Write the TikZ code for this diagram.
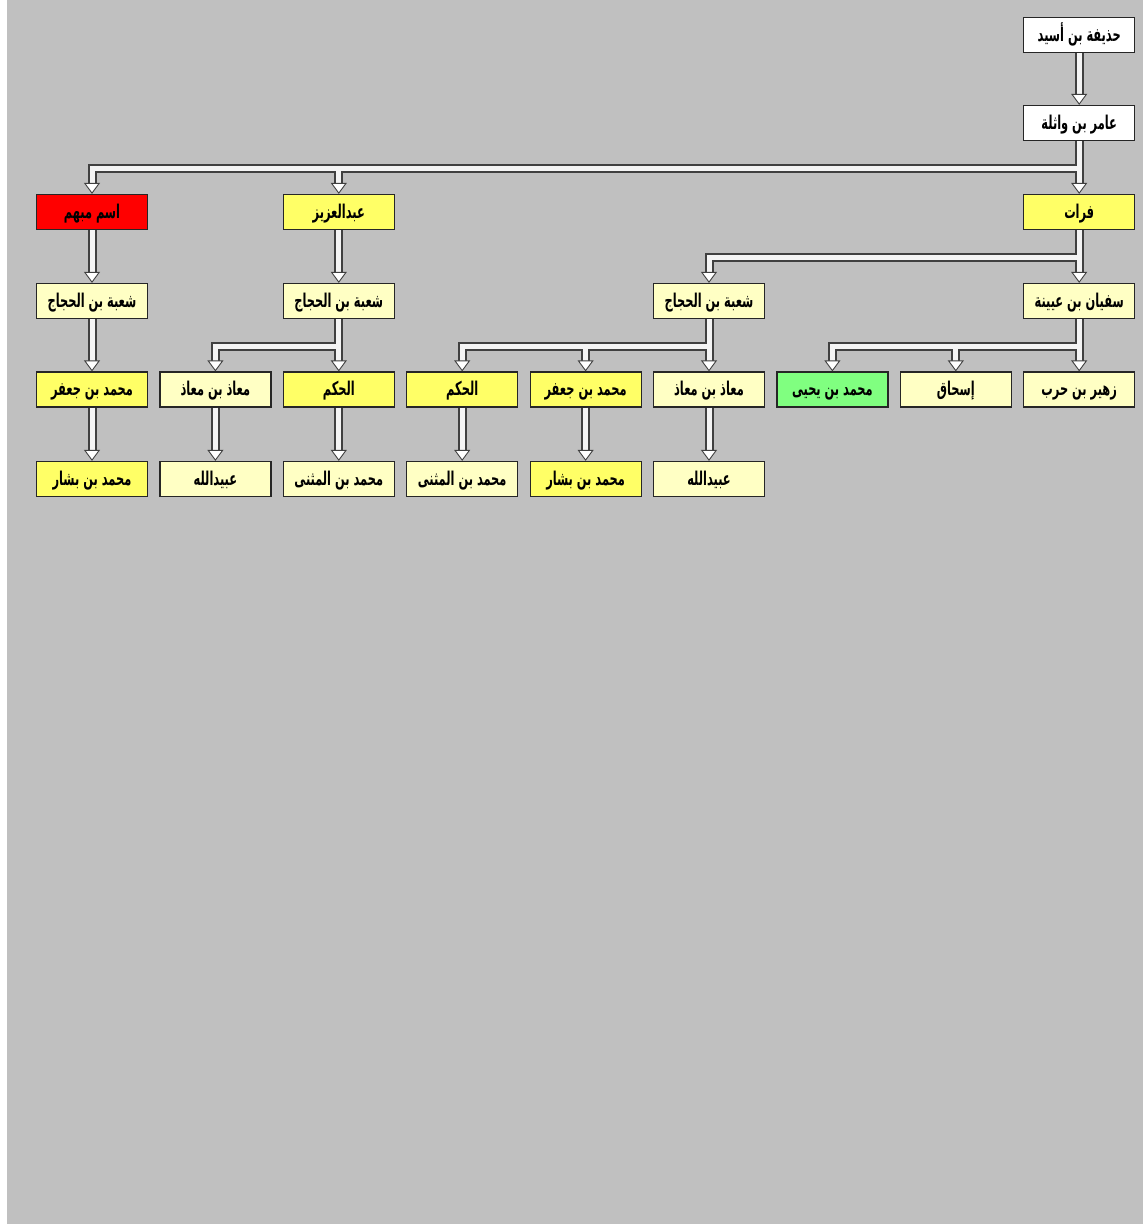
\documentclass[tikz,border=0pt]{standalone}
\usepackage{fontspec}
\newfontfamily\arabicfont[Script=Arabic, FakeStretch=0.6]{DejaVu Sans}
\TeXXeTstate=1
\usetikzlibrary{arrows.meta, positioning, calc}
\definecolor{bggray}{HTML}{C0C0C0}
\definecolor{boxred}{HTML}{FF0000}
\definecolor{boxyellow}{HTML}{FFFF66}
\definecolor{paleyellow}{HTML}{FFFFC4}
\definecolor{boxgreen}{HTML}{80FF80}
\definecolor{pipegray}{HTML}{404040}
\definecolor{pipelight}{HTML}{F4F4F4}

\begin{document}
\begin{tikzpicture}[
  x=1pt, y=1pt,
  namebox/.style={
    draw=black!85, line width=1.2pt, fill=#1,
    minimum width=111pt, minimum height=35pt, inner sep=2pt,
    text height=17pt, text depth=4pt,
    font=\arabicfont\bfseries\fontsize{19}{21}\selectfont, text=black
  },
  pipeout/.style={line width=9pt, draw=pipegray, shorten >=10pt},
  pipein/.style={line width=5pt, draw=pipelight,
    -{Triangle[length=11pt, width=16pt, fill=white, color=pipegray, line width=0.9pt]}},
]

% Background
\useasboundingbox (0,0) rectangle (1146,1224);
\fill[white] (0,0) rectangle (1146,1224);
\fill[bggray] (7,0) rectangle (1143,1224);

% =============================================
% Top of the chain
% =============================================
\node[namebox={white}] (hudhayfa) at (1079.2,1189) {\beginR حذيفة بن أسيد\endR};
\node[namebox={white}] (amir) at (1079.2,1101) {\beginR عامر بن واثلة\endR};

% =============================================
% Row 2
% =============================================
\node[namebox={boxyellow}] (furat) at (1079.2,1012) {\beginR فرات\endR};
\node[namebox={boxyellow}] (abdulaziz) at (338.8,1012) {\beginR عبدالعزيز\endR};
\node[namebox={boxred}] (mubham) at (92,1012) {\beginR اسم مبهم\endR};

% =============================================
% Row 3
% =============================================
\node[namebox={paleyellow}] (shubaA) at (92,923) {\beginR شعبة بن الحجاج\endR};
\node[namebox={paleyellow}] (shubaB) at (338.8,923) {\beginR شعبة بن الحجاج\endR};
\node[namebox={paleyellow}] (shubaC) at (709,923) {\beginR شعبة بن الحجاج\endR};
\node[namebox={paleyellow}] (sufyan) at (1079.2,923) {\beginR سفيان بن عيينة\endR};

% =============================================
% Row 4
% =============================================
\node[namebox={boxyellow}] (jafarA) at (92,834.5) {\beginR محمد بن جعفر\endR};
\node[namebox={paleyellow}] (muadhA) at (215.4,834.5) {\beginR معاذ بن معاذ\endR};
\node[namebox={boxyellow}] (hakamA) at (338.8,834.5) {\beginR الحكم\endR};
\node[namebox={boxyellow}] (hakamB) at (462.2,834.5) {\beginR الحكم\endR};
\node[namebox={boxyellow}] (jafarB) at (585.6,834.5) {\beginR محمد بن جعفر\endR};
\node[namebox={paleyellow}] (muadhB) at (709,834.5) {\beginR معاذ بن معاذ\endR};
\node[namebox={boxgreen}] (yahya) at (832.4,834.5) {\beginR محمد بن يحيى\endR};
\node[namebox={paleyellow}] (ishaq) at (955.8,834.5) {\beginR إسحاق\endR};
\node[namebox={paleyellow}] (zuhayr) at (1079.2,834.5) {\beginR زهير بن حرب\endR};

% =============================================
% Row 5
% =============================================
\node[namebox={boxyellow}] (bashshirA) at (92,745) {\beginR محمد بن بشار\endR};
\node[namebox={paleyellow}] (ubaydA) at (215.4,745) {\beginR عبيدالله\endR};
\node[namebox={paleyellow}] (muthannaA) at (338.8,745) {\beginR محمد بن المثنى\endR};
\node[namebox={paleyellow}] (muthannaB) at (462.2,745) {\beginR محمد بن المثنى\endR};
\node[namebox={boxyellow}] (bashshirB) at (585.6,745) {\beginR محمد بن بشار\endR};
\node[namebox={paleyellow}] (ubaydB) at (709,745) {\beginR عبيدالله\endR};

% =============================================
% Pipes: dark outline first, light core and tips on top
% =============================================
\foreach \a/\b in {hudhayfa/amir, amir/furat, amir/abdulaziz, amir/mubham,
    mubham/shubaA, shubaA/jafarA, jafarA/bashshirA,
    abdulaziz/shubaB, shubaB/hakamA, shubaB/muadhA, muadhA/ubaydA, hakamA/muthannaA,
    furat/sufyan, furat/shubaC,
    shubaC/muadhB, shubaC/jafarB, shubaC/hakamB,
    hakamB/muthannaB, jafarB/bashshirB, muadhB/ubaydB,
    sufyan/zuhayr, sufyan/ishaq, sufyan/yahya}
  \draw[pipeout] (\a.south) -- ++(0,-27) -| (\b.north);

\foreach \a/\b in {hudhayfa/amir, amir/furat, amir/abdulaziz, amir/mubham,
    mubham/shubaA, shubaA/jafarA, jafarA/bashshirA,
    abdulaziz/shubaB, shubaB/hakamA, shubaB/muadhA, muadhA/ubaydA, hakamA/muthannaA,
    furat/sufyan, furat/shubaC,
    shubaC/muadhB, shubaC/jafarB, shubaC/hakamB,
    hakamB/muthannaB, jafarB/bashshirB, muadhB/ubaydB,
    sufyan/zuhayr, sufyan/ishaq, sufyan/yahya}
  \draw[pipein] (\a.south) -- ++(0,-27) -| (\b.north);

\end{tikzpicture}
\end{document}
